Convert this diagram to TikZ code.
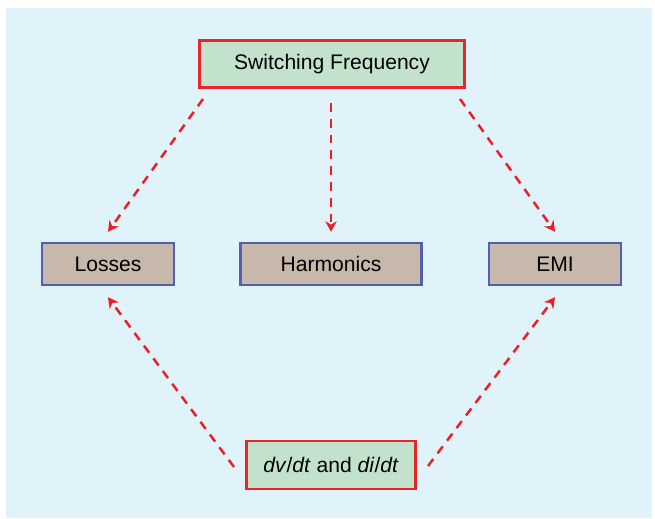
\documentclass[tikz,border=0pt]{standalone}
\usepackage{fontspec}
\setmainfont{Liberation Sans}
\usepackage{tikz}
\usetikzlibrary{arrows.meta,positioning,calc}
\definecolor{panel}{RGB}{224,242,250}
\definecolor{causefill}{RGB}{194,226,204}
\definecolor{causeline}{RGB}{232,38,42}
\definecolor{effectfill}{RGB}{200,184,172}
\definecolor{effectline}{RGB}{82,96,176}
\definecolor{linkred}{RGB}{236,30,36}

\begin{document}
\begin{tikzpicture}[
    x=0.02cm, y=-0.02cm,
    cause/.style={rectangle, draw=causeline, fill=causefill, line width=1.4pt, inner sep=0pt, font=\fontsize{12}{14}\selectfont},
    effect/.style={rectangle, draw=effectline, fill=effectfill, line width=1.4pt, inner sep=0pt, minimum height=0.84cm, font=\fontsize{12}{14}\selectfont},
    link/.style={draw=linkred, line width=1.4pt, dash pattern=on 5pt off 4pt, -{Stealth[length=6pt,width=6.5pt]}}
]
    \useasboundingbox (0,0) rectangle (655,518);
    \fill[panel] (6,8) rectangle (652,518);

    % Top cause
    \node[cause, minimum width=5.3cm, minimum height=0.94cm] (freq) at (332,64) {Switching Frequency};

    % Effects
    \node[effect, minimum width=2.64cm] (losses) at (108,264) {Losses};
    \node[effect, minimum width=3.62cm] (harm) at (331,264) {Harmonics};
    \node[effect, minimum width=2.64cm] (emi) at (555,264) {EMI};

    % Bottom cause
    \node[cause, minimum width=3.38cm, minimum height=0.96cm] (slope) at (331,465) {\textit{dv}/\textit{dt} and \textit{di}/\textit{dt}};

    % Link start points
    \coordinate (freqL) at (203,99);
    \coordinate (freqM) at (331,103);
    \coordinate (freqR) at (460,99);
    \coordinate (slopeL) at (234,467);
    \coordinate (slopeR) at (428,466);

    \draw[link] (freqL) -- ([yshift=0.2cm]losses.north);
    \draw[link] (freqM) -- ([yshift=0.2cm]harm.north);
    \draw[link] (freqR) -- ([yshift=0.2cm]emi.north);
    \draw[link] (slopeL) -- ([yshift=-0.22cm]losses.south);
    \draw[link] (slopeR) -- ([yshift=-0.22cm]emi.south);
\end{tikzpicture}
\end{document}
